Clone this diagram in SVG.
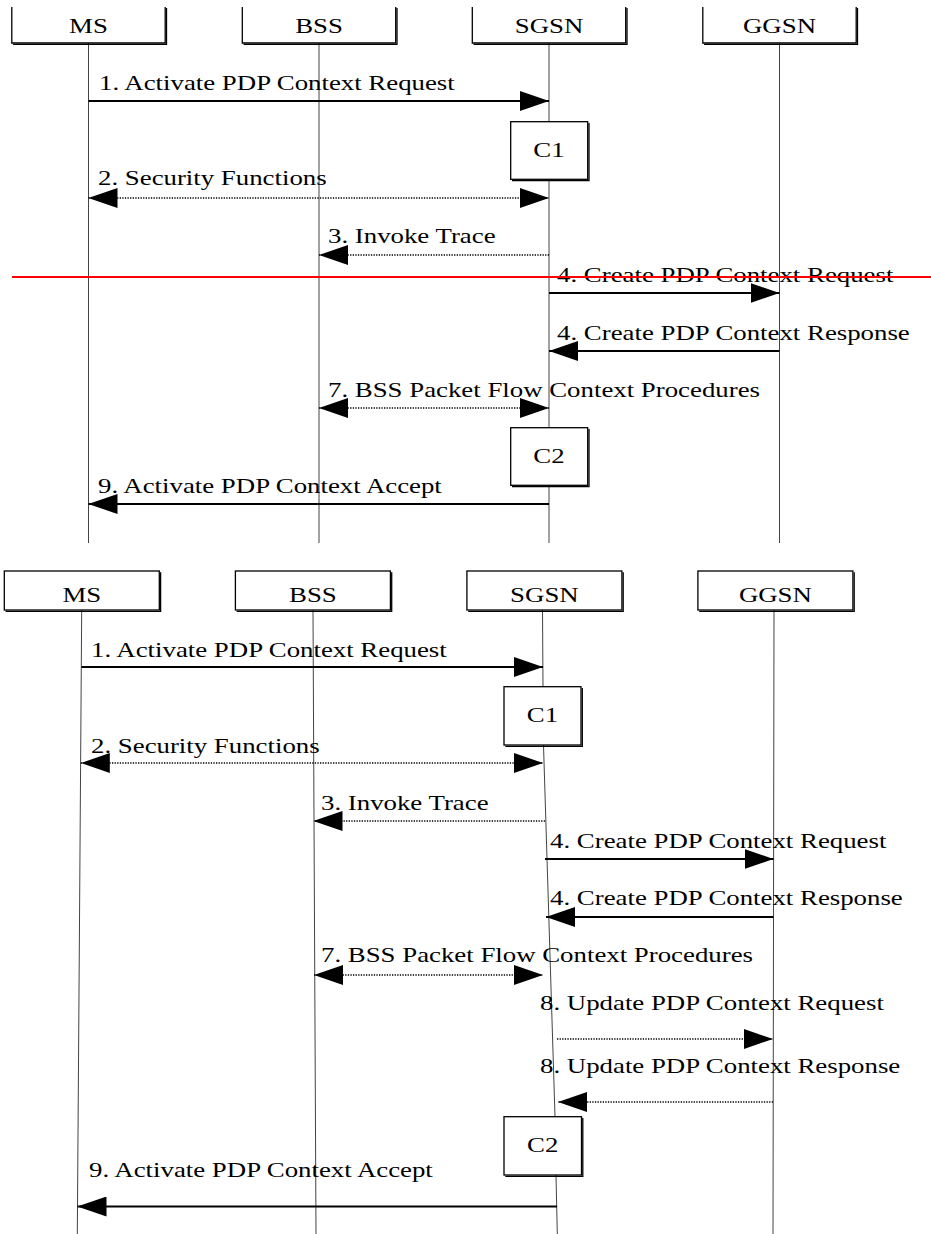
<svg xmlns="http://www.w3.org/2000/svg" width="931" height="1234" viewBox="0 0 931 1234">
  <defs>
    <!-- filled arrowhead, fixed size in user units -->
    <marker id="ah" markerUnits="userSpaceOnUse" markerWidth="29" markerHeight="20" refX="29" refY="10" orient="auto-start-reverse" viewBox="0 0 29 20">
      <path d="M0,0 L29,10 L0,20 Z" fill="#000"/>
    </marker>
  </defs>
  <style>
    .life{stroke:#444;stroke-width:1;fill:none}
    .box{fill:#fff;stroke:#000;stroke-width:1.3}
    .shadow{fill:none;stroke:#000;stroke-width:1.3}
    .solid{stroke:#000;stroke-width:2.2;fill:none;marker-end:url(#ah)}
    .dot{stroke:#000;stroke-width:1.6;stroke-dasharray:1.3 1.3;fill:none;marker-end:url(#ah)}
    .both{marker-start:url(#ah)}
    text{font-family:"Liberation Serif","Times New Roman",serif;font-size:22px;fill:#000}
    .c{text-anchor:middle}
    .red{stroke:#f00;stroke-width:2;fill:none}
  </style>
  <rect width="931" height="1234" fill="#fff"/>

  <!-- ===== First chart ===== -->
  <g id="top-lifelines">
    <path class="life" d="M88.5,43 V543"/>
    <path class="life" d="M319,43 V543"/>
    <path class="life" d="M549,43 V543"/>
    <path class="life" d="M779.5,43 V543"/>
  </g>

  <g id="top-ms">
    <path class="box" d="M11.8,7 V43 H165.2 V7"/>
    <path class="shadow" d="M13.1,44.3 H166.5 V8"/>
    <text class="c" transform="translate(88.5 33.3) scale(1.22 1)">MS</text>
  </g>
  <g id="top-bss">
    <path class="box" d="M242.3,7 V43 H395.7 V7"/>
    <path class="shadow" d="M243.6,44.3 H397 V8"/>
    <text class="c" transform="translate(319 33.3) scale(1.22 1)">BSS</text>
  </g>
  <g id="top-sgsn">
    <path class="box" d="M472.3,7 V43 H625.7 V7"/>
    <path class="shadow" d="M473.6,44.3 H627 V8"/>
    <text class="c" transform="translate(549 33.3) scale(1.22 1)">SGSN</text>
  </g>
  <g id="top-ggsn">
    <path class="box" d="M702.8,7 V43 H856.2 V7"/>
    <path class="shadow" d="M704.1,44.3 H857.5 V8"/>
    <text class="c" transform="translate(779.5 33.3) scale(1.22 1)">GGSN</text>
  </g>
  <g id="top-c1">
    <rect class="box" x="510.7" y="121.7" width="77" height="57.6"/>
    <path class="shadow" d="M512,180.6 H589 V123"/>
    <text class="c" transform="translate(549 157) scale(1.22 1)">C1</text>
  </g>
  <g id="top-c2">
    <rect class="box" x="510.7" y="427.7" width="77" height="57.6"/>
    <path class="shadow" d="M512,486.6 H589 V429"/>
    <text class="c" transform="translate(549 463) scale(1.22 1)">C2</text>
  </g>

  <g id="top-connectors">
    <path class="solid" d="M88.5,101 H549"/>
    <path class="dot both" d="M88.5,198 H549"/>
    <path class="dot" d="M549,255 H319"/>
    <path class="solid" d="M549,293 H779.5"/>
    <path class="solid" d="M779.5,351 H549"/>
    <path class="dot both" d="M319,408 H549"/>
    <path class="solid" d="M549,504 H88.5"/>
  </g>
  <g id="top-labels">
    <text transform="translate(99 90) scale(1.22 1)">1. Activate PDP Context Request</text>
    <text transform="translate(98 185) scale(1.22 1)">2. Security Functions</text>
    <text transform="translate(328 243) scale(1.22 1)">3. Invoke Trace</text>
    <text transform="translate(557 282) scale(1.22 1)">4. Create PDP Context Request</text>
    <text transform="translate(557 340) scale(1.22 1)">4. Create PDP Context Response</text>
    <text transform="translate(328 397) scale(1.22 1)">7. BSS Packet Flow Context Procedures</text>
    <text transform="translate(98 493) scale(1.22 1)">9. Activate PDP Context Accept</text>
  </g>

  <!-- red strike line across the first chart -->
  <path id="strike" class="red" d="M12,277 H931"/>

  <!-- ===== Second chart ===== -->
  <g id="bottom-lifelines">
    <path class="life" d="M81.7,610 L77.3,1234"/>
    <path class="life" d="M313,610 L316,1234"/>
    <path class="life" d="M542.5,610 L543,686.7"/>
    <path class="life" d="M543.5,745 L555,1116.7"/>
    <path class="life" d="M556,1175 L557.3,1234"/>
    <path class="life" d="M774,610 L773,1234"/>
  </g>

  <g id="bottom-ms">
    <rect class="box" x="4.3" y="571" width="155" height="39"/>
    <path class="shadow" d="M5.6,611.3 H160.6 V572.3"/>
    <text class="c" transform="translate(81.8 601.7) scale(1.22 1)">MS</text>
  </g>
  <g id="bottom-bss">
    <rect class="box" x="235.4" y="571" width="155" height="39"/>
    <path class="shadow" d="M236.7,611.3 H391.7 V572.3"/>
    <text class="c" transform="translate(312.9 601.7) scale(1.22 1)">BSS</text>
  </g>
  <g id="bottom-sgsn">
    <rect class="box" x="466.9" y="571" width="155" height="39"/>
    <path class="shadow" d="M468.2,611.3 H623.2 V572.3"/>
    <text class="c" transform="translate(544.4 601.7) scale(1.22 1)">SGSN</text>
  </g>
  <g id="bottom-ggsn">
    <rect class="box" x="697.9" y="571" width="155" height="39"/>
    <path class="shadow" d="M699.2,611.3 H854.2 V572.3"/>
    <text class="c" transform="translate(775.4 601.7) scale(1.22 1)">GGSN</text>
  </g>
  <g id="bottom-c1">
    <rect class="box" x="504" y="686.7" width="77" height="58.3"/>
    <path class="shadow" d="M505.3,746.3 H582.3 V688"/>
    <text class="c" transform="translate(542.5 722) scale(1.22 1)">C1</text>
  </g>
  <g id="bottom-c2">
    <rect class="box" x="504" y="1116.7" width="77.5" height="58.3"/>
    <path class="shadow" d="M505.3,1176.3 H582.8 V1118"/>
    <text class="c" transform="translate(542.7 1152) scale(1.22 1)">C2</text>
  </g>

  <g id="bottom-connectors">
    <path class="solid" d="M81.5,667 H543"/>
    <path class="dot both" d="M80.8,763 H543"/>
    <path class="dot" d="M545,821 H313.5"/>
    <path class="solid" d="M545,859 H773.5"/>
    <path class="solid" d="M773.5,917 H546"/>
    <path class="dot both" d="M314,975 H543"/>
    <path class="dot" d="M557,1039 H773"/>
    <path class="dot" d="M773,1102 H558"/>
    <path class="solid" d="M557,1206.5 H77.5"/>
  </g>
  <g id="bottom-labels">
    <text transform="translate(91 657) scale(1.22 1)">1. Activate PDP Context Request</text>
    <text transform="translate(91 753) scale(1.22 1)">2. Security Functions</text>
    <text transform="translate(321 810) scale(1.22 1)">3. Invoke Trace</text>
    <text transform="translate(550 848) scale(1.22 1)">4. Create PDP Context Request</text>
    <text transform="translate(550 905) scale(1.22 1)">4. Create PDP Context Response</text>
    <text transform="translate(321 962) scale(1.22 1)">7. BSS Packet Flow Context Procedures</text>
    <text transform="translate(540 1010) scale(1.22 1)">8. Update PDP Context Request</text>
    <text transform="translate(540 1073) scale(1.22 1)">8. Update PDP Context Response</text>
    <text transform="translate(89 1177) scale(1.22 1)">9. Activate PDP Context Accept</text>
  </g>
</svg>
